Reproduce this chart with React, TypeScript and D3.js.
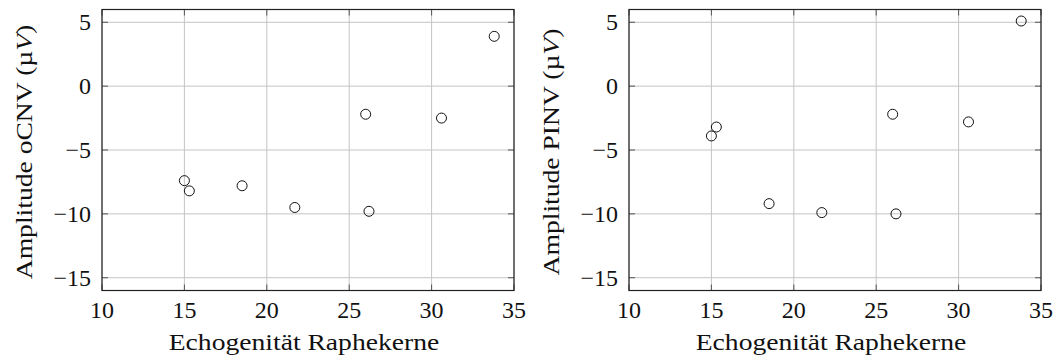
import * as React from 'react'
import { useEffect, useRef } from 'react'
import * as d3 from 'd3'

const echogenicity = [15.0, 15.3, 18.5, 21.7, 26.0, 26.2, 30.6, 33.8]
const amplitudeOCNV = [-7.4, -8.2, -7.8, -9.5, -2.2, -9.8, -2.5, 3.9]
const amplitudePINV = [-3.9, -3.2, -9.2, -9.9, -2.2, -10.0, -2.8, 5.1]
const xTicks = [10, 15, 20, 25, 30, 35]
const yTicks = [-15, -10, -5, 0, 5]
const xLabel = 'Echogenität Raphekerne'
const panels = [
  { name: 'oCNV', values: amplitudeOCNV, left: 102 },
  { name: 'PINV', values: amplitudePINV, left: 629 },
]

const FONT = '"Liberation Serif", "DejaVu Serif", serif'
// reference face is wider than Times, stretch text a bit
const STRETCH = 1.2

export default function App() {
  const svgRef = useRef<SVGSVGElement>(null)
  const width = 1060
  const height = 361

  useEffect(() => {
    if (!svgRef.current) return
    const svg = d3.select(svgRef.current)
    svg.selectAll('*').remove()

    const plotW = 412
    const plotH = 281
    const top = 9.5

    panels.forEach((p) => {
      const x = d3.scaleLinear().domain([10, 35]).range([0, plotW])
      const y = d3.scaleLinear().domain([-16, 6]).range([plotH, 0])

      const g = svg.append('g').attr('transform', `translate(${p.left}, ${top})`)

      // grid
      g.selectAll('.gx')
        .data(xTicks)
        .join('line')
        .attr('x1', d => x(d))
        .attr('x2', d => x(d))
        .attr('y1', 0)
        .attr('y2', plotH)
        .attr('stroke', '#c4c4c4')
        .attr('stroke-width', 1)

      g.selectAll('.gy')
        .data(yTicks)
        .join('line')
        .attr('x1', 0)
        .attr('x2', plotW)
        .attr('y1', d => y(d))
        .attr('y2', d => y(d))
        .attr('stroke', '#c4c4c4')
        .attr('stroke-width', 1)

      // inward tick marks on all four sides
      xTicks.forEach((t) => {
        g.append('line').attr('x1', x(t)).attr('x2', x(t)).attr('y1', 0).attr('y2', 6)
          .attr('stroke', '#555').attr('stroke-width', 1)
        g.append('line').attr('x1', x(t)).attr('x2', x(t)).attr('y1', plotH).attr('y2', plotH - 6)
          .attr('stroke', '#555').attr('stroke-width', 1)
      })
      yTicks.forEach((t) => {
        g.append('line').attr('x1', 0).attr('x2', 6).attr('y1', y(t)).attr('y2', y(t))
          .attr('stroke', '#555').attr('stroke-width', 1)
        g.append('line').attr('x1', plotW).attr('x2', plotW - 6).attr('y1', y(t)).attr('y2', y(t))
          .attr('stroke', '#555').attr('stroke-width', 1)
      })

      // frame
      g.append('rect')
        .attr('x', 0)
        .attr('y', 0)
        .attr('width', plotW)
        .attr('height', plotH)
        .attr('fill', 'none')
        .attr('stroke', '#222')
        .attr('stroke-width', 1.2)

      // tick labels
      g.selectAll('.xt')
        .data(xTicks)
        .join('text')
        .attr('x', d => x(d))
        .attr('y', plotH + 27)
        .attr('text-anchor', 'middle')
        .attr('font-family', FONT)
        .attr('font-size', '24px')
        .attr('fill', '#111')
        .text(d => String(d))

      g.selectAll('.yt')
        .data(yTicks)
        .join('text')
        .attr('x', -11)
        .attr('y', d => y(d))
        .attr('dy', '0.33em')
        .attr('text-anchor', 'end')
        .attr('font-family', FONT)
        .attr('font-size', '24px')
        .attr('fill', '#111')
        .text(d => (d < 0 ? `\u2212${Math.abs(d)}` : String(d)))

      // points
      g.selectAll('.pt')
        .data(echogenicity.map((e, i) => ({ e, v: p.values[i] })))
        .join('circle')
        .attr('cx', d => x(d.e))
        .attr('cy', d => y(d.v))
        .attr('r', 5)
        .attr('fill', 'none')
        .attr('stroke', '#111')
        .attr('stroke-width', 1)

      // axis titles
      const xt = g.append('text')
        .attr('x', plotW / 2 - 4)
        .attr('y', plotH + 59.5)
        .attr('text-anchor', 'middle')
        .attr('font-family', FONT)
        .attr('font-size', '23px')
        .attr('fill', '#111')
        .text(xLabel)

      const yt = g.append('text')
        .attr('transform', `translate(${-70}, ${plotH / 2 + 2}) rotate(-90)`)
        .attr('text-anchor', 'middle')
        .attr('font-family', FONT)
        .attr('font-size', '23px')
        .attr('fill', '#111')
      yt.append('tspan').text(`Amplitude ${p.name} (\u00b5`)
      yt.append('tspan').attr('font-style', 'italic').text('V')
      yt.append('tspan').text(')')

      ;[xt, yt].forEach((t) => {
        const node = t.node() as SVGTextElement
        const w = node.getComputedTextLength()
        t.attr('textLength', w * STRETCH).attr('lengthAdjust', 'spacingAndGlyphs')
      })
    })
  }, [])

  return (
    <svg
      ref={svgRef}
      width={width}
      height={height}
      style={{ position: 'fixed', left: 0, top: 0, background: '#fff' }}
    />
  )
}
